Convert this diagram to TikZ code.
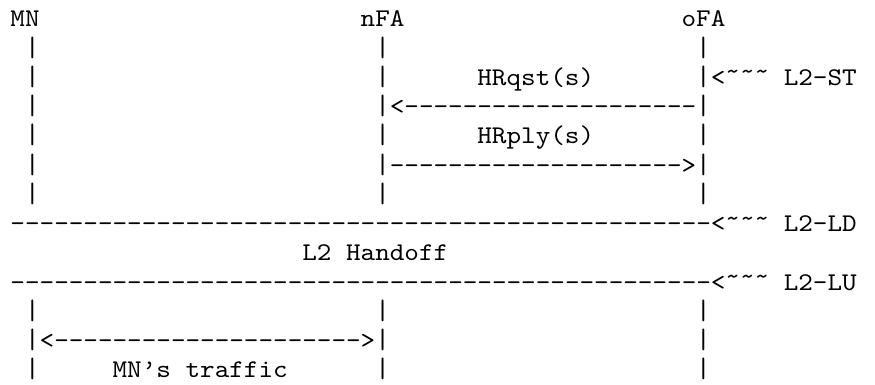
\documentclass[tikz,border=0pt]{standalone}
\usepackage{fontspec}
\setmonofont{lmmono10-regular.otf}[FakeStretch=1.09]
\usepackage{tikz}

\newcommand\wavy{\raisebox{0.22em}{\textasciitilde}}

\begin{document}
\begin{tikzpicture}[x=5.836pt,y=-11.7pt,
  txt/.style={font=\ttfamily\fontsize{10.2}{11.7}\selectfont,inner sep=0pt,anchor=base west}]
\useasboundingbox (-4pt,10.8pt) rectangle (346pt,-143.2pt);

\node[txt] (mn) at (0,0) {MN};
\node[txt] (nfa) at (24,0) {nFA};
\node[txt] (ofa) at (46,0) {oFA};

\foreach \r in {1,...,6,10,11,12}
  \foreach \c in {1,25,47}
    \node[txt] (bar-\r-\c) at (\c,\r) {\scalebox{1}[1.1]{|}};

\node[txt] (hrqst) at (32,2) {HRqst(s)};
\node[txt] (sttrig) at (48,2) {<\wavy\wavy\wavy};
\node[txt] (st) at (53,2) {L2-ST};
\node[txt] (hrqstarr) at (26,3) {<--------------------};

\node[txt] (hrply) at (32,4) {HRply(s)};
\node[txt] (hrplyarr) at (26,5) {-------------------->};

\node[txt] (ldline) at (0,7) {------------------------------------------------};
\node[txt] (ldtrig) at (48,7) {<\wavy\wavy\wavy};
\node[txt] (ld) at (53,7) {L2-LD};

\node[txt] (ho1) at (20,8) {L2};
\node[txt] (ho2) at (23,8) {Handoff};

\node[txt] (luline) at (0,9) {------------------------------------------------};
\node[txt] (lutrig) at (48,9) {<\wavy\wavy\wavy};
\node[txt] (lu) at (53,9) {L2-LU};

\node[txt] (trafarr) at (2,11) {<--------------------->};
\node[txt] (traf1) at (7,12) {MN’s};
\node[txt] (traf2) at (12,12) {traffic};
\end{tikzpicture}
\end{document}
